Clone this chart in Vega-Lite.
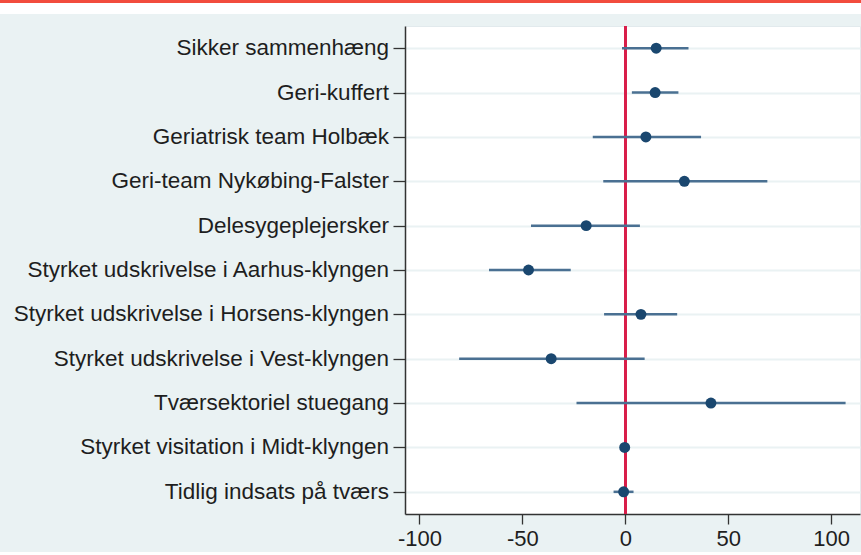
{
  "$schema": "https://vega.github.io/schema/vega-lite/v6.json",
  "padding": {"left": 0, "top": 0, "right": 0, "bottom": 2},
  "background": "#eaf2f3",
  "config": {
    "font": "Liberation Sans"
  },
  "data": {
    "values": [
      {"tiltag": "Sikker sammenhæng", "est": 15, "lo": -1.6, "hi": 30.7},
      {"tiltag": "Geri-kuffert", "est": 14.5, "lo": 3.2, "hi": 25.8},
      {"tiltag": "Geriatrisk team Holbæk", "est": 10, "lo": -15.8, "hi": 36.8},
      {"tiltag": "Geri-team Nykøbing-Falster", "est": 28.7, "lo": -10.7, "hi": 69},
      {"tiltag": "Delesygeplejersker", "est": -19, "lo": -45.8, "hi": 7.1},
      {"tiltag": "Styrket udskrivelse i Aarhus-klyngen", "est": -47, "lo": -66.2, "hi": -26.5},
      {"tiltag": "Styrket udskrivelse i Horsens-klyngen", "est": 7.6, "lo": -10.3, "hi": 25.2},
      {"tiltag": "Styrket udskrivelse i Vest-klyngen", "est": -36, "lo": -80.7, "hi": 9.4},
      {"tiltag": "Tværsektoriel stuegang", "est": 41.6, "lo": -23.7, "hi": 107},
      {"tiltag": "Styrket visitation i Midt-klyngen", "est": -0.3, "lo": -1, "hi": 0.5},
      {"tiltag": "Tidlig indsats på tværs", "est": -0.8, "lo": -5.7, "hi": 4}
    ]
  },
  "spacing": 10,
  "vconcat": [
    {
      "vconcat": [
        {
          "width": 861, "height": 3,
          "view": {"fill": "#f24c3d", "stroke": null},
          "mark": {"type": "rect", "opacity": 0},
          "encoding": {}
        },
        {
          "width": 861, "height": 11,
          "view": {"fill": "#ffffff", "stroke": null},
          "mark": {"type": "rect", "opacity": 0},
          "encoding": {}
        }
      ],
      "spacing": 0
    },
    {
      "spacing": 2,
      "hconcat": [
        {
          "width": 389,
          "height": 488,
          "view": {"fill": null, "stroke": null},
          "mark": {"type": "text", "align": "right", "baseline": "middle", "fontSize": 22.5, "color": "#1e1e1e"},
          "encoding": {
            "y": {
              "field": "tiltag", "type": "nominal", "sort": null,
              "scale": {"type": "point", "padding": 0.5},
              "axis": null
            },
            "x": {"value": "width"},
            "text": {"field": "tiltag"}
          }
        },
        {
          "width": 455,
          "height": 488,
          "view": {"fill": "#ffffff", "stroke": "#e2eaed", "strokeWidth": 1},
          "encoding": {
            "y": {
              "field": "tiltag", "type": "nominal", "sort": null,
              "scale": {"type": "point", "padding": 0.5},
              "axis": {
                "title": null,
                "labels": false,
                "tickSize": 12,
                "tickColor": "#333333",
                "tickWidth": 1.3,
                "domainColor": "#333333",
                "domainWidth": 1.5,
                "grid": true,
                "gridColor": "#eaf2f3",
                "gridWidth": 2
              }
            }
          },
          "layer": [
            {
              "mark": {"type": "rule", "color": "#d81e4a", "strokeWidth": 2},
              "encoding": {
                "x": {"datum": 0, "type": "quantitative"},
                "y": null
              }
            },
            {
              "mark": {"type": "rule", "color": "#4a7092", "strokeWidth": 2.5},
              "encoding": {
                "x": {
                  "field": "lo", "type": "quantitative",
                  "scale": {"domain": [-107, 114], "nice": false, "zero": false},
                  "axis": {
                    "title": null,
                    "values": [-100, -50, 0, 50, 100],
                    "labelExpr": "replace(datum.label, '\u2212', '-')",
                    "labelFontSize": 22,
                    "labelColor": "#1e1e1e",
                    "labelPadding": 4,
                    "tickSize": 10,
                    "tickColor": "#333333",
                    "tickWidth": 1.3,
                    "domainColor": "#333333",
                    "domainWidth": 1.5,
                    "grid": false
                  }
                },
                "x2": {"field": "hi"}
              }
            },
            {
              "mark": {"type": "circle", "color": "#1a476f", "opacity": 1, "size": 120},
              "encoding": {
                "x": {"field": "est", "type": "quantitative"}
              }
            }
          ]
        }
      ]
    }
  ]
}
